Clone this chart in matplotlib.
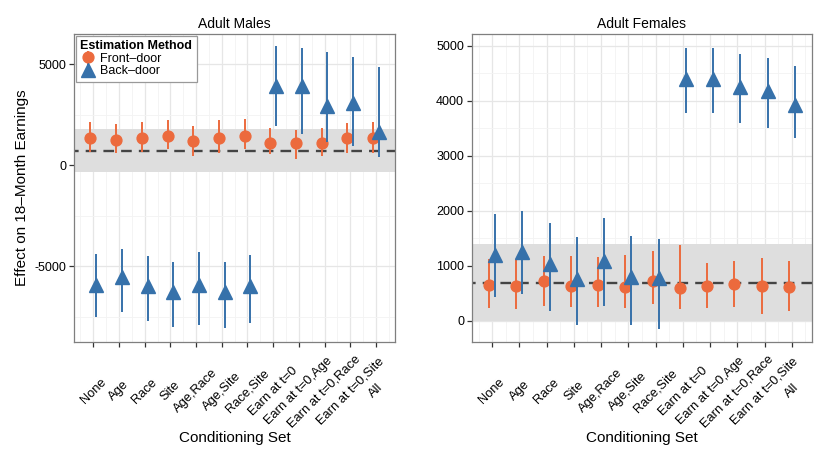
import matplotlib
matplotlib.use("Agg")
from matplotlib import pyplot as plt
from matplotlib.ticker import FixedLocator
import numpy as np

plt.rcParams['font.family'] = 'Liberation Sans'
plt.rcParams['axes.unicode_minus'] = False

categories = ["None", "Age", "Race", "Site", "Age,Race", "Age,Site", "Race,Site",
              "Earn at t=0", "Earn at t=0,Age", "Earn at t=0,Race", "Earn at t=0,Site", "All"]

# Adult males
males_front = [1350, 1250, 1350, 1420, 1190, 1350, 1420, 1090, 1090, 1090, 1350, 1350]
males_front_lo = [660, 590, 660, 790, 430, 590, 790, 530, 300, 460, 590, 590]
males_front_hi = [2110, 2050, 2110, 2240, 1950, 2210, 2280, 1820, 1750, 1850, 2080, 2110]
males_back = [-5930, -5520, -5970, -6300, -5940, -6300, -5970, 3930, 3930, 2940, 3090, 1630]
males_back_lo = [-7540, -7260, -7740, -8000, -7900, -8090, -7820, 1920, 1520, 1120, 960, 400]
males_back_hi = [-4410, -4160, -4520, -4820, -4290, -4820, -4460, 5880, 5790, 5580, 5330, 4880]
males_band = (-360, 1780)
males_benchmark = 720

# Adult females
females_front = [650, 630, 710, 620, 650, 610, 710, 590, 630, 670, 620, 610]
females_front_lo = [220, 210, 270, 240, 240, 220, 300, 210, 230, 240, 110, 170]
females_front_hi = [1120, 1120, 1180, 1180, 1160, 1190, 1270, 1380, 1040, 1090, 1130, 1090]
females_back = [1200, 1240, 1020, 750, 1090, 800, 770, 4390, 4400, 4240, 4180, 3910]
females_back_lo = [430, 490, 180, -80, 270, -80, -160, 3780, 3780, 3590, 3500, 3320]
females_back_hi = [1930, 2000, 1770, 1510, 1860, 1530, 1490, 4960, 4950, 4850, 4780, 4630]
females_band = (0, 1390)
females_benchmark = 690

orange = '#EC6A3D'
blue = '#3671AA'

fig = plt.figure(figsize=(8.21, 4.51), dpi=100)
W, H = 821, 451
ax1 = fig.add_axes([74 / W, 1 - 342 / H, (395 - 74) / W, (342 - 34) / H])
ax2 = fig.add_axes([471.7 / W, 1 - 342 / H, (812 - 471.7) / W, (342 - 34) / H])


def draw_panel(ax, title, front, flo, fhi, back, blo, bhi, band, bench, ylim, yticks, yminor):
    x = np.arange(1, len(categories) + 1)
    ax.axhspan(band[0], band[1], color='#DEDEDE', lw=0, zorder=1)
    ln, = ax.plot([0, 13], [bench, bench], color='#444444', lw=1.7, zorder=2)
    ln.set_dashes([4.5, 3])
    f = np.array(front)
    b = np.array(back)
    h1 = ax.errorbar(x - 0.11, f, yerr=[f - np.array(flo), np.array(fhi) - f], fmt='o',
                     color=orange, ms=7.8, elinewidth=1.4, capsize=0, zorder=3,
                     label='Front\u2013door')
    h2 = ax.errorbar(x + 0.11, b, yerr=[b - np.array(blo), np.array(bhi) - b], fmt='^',
                     color=blue, ms=9.5, elinewidth=1.4, capsize=0, zorder=4,
                     label='Back\u2013door')
    ax.set_xlim(0.25, 12.74)
    ax.set_ylim(*ylim)
    ax.set_xticks(x)
    ax.set_xticklabels(categories, rotation=45, ha='center', va='center', fontsize=9.3)
    ax.xaxis.set_minor_locator(FixedLocator(np.arange(0.5, 13, 1)))
    ax.set_yticks(yticks)
    ax.set_yticklabels([str(v) for v in yticks], fontsize=9)
    ax.yaxis.set_minor_locator(FixedLocator(yminor))
    ax.grid(True, which='major', color='#E6E6E6', lw=0.9, zorder=0)
    ax.grid(True, which='minor', color='#F3F3F3', lw=0.6, zorder=0)
    ax.set_axisbelow(True)
    ax.tick_params(which='major', length=3.5, width=0.9, color='#333333', labelcolor='black', pad=2)
    ax.tick_params(axis='x', which='major', pad=31.8)
    ax.tick_params(which='minor', length=0)
    for s in ax.spines.values():
        s.set_color('#7F7F7F')
        s.set_linewidth(0.9)
    ax.set_title(title, fontsize=10, pad=4)
    ax.set_xlabel('Conditioning Set', fontsize=11)
    ax.xaxis.set_label_coords(0.5, -0.29)
    return h1, h2


h1, h2 = draw_panel(ax1, 'Adult Males', males_front, males_front_lo, males_front_hi,
                    males_back, males_back_lo, males_back_hi, males_band, males_benchmark,
                    (-8760, 6490), [-5000, 0, 5000], [-7500, -2500, 2500])
draw_panel(ax2, 'Adult Females', females_front, females_front_lo, females_front_hi,
           females_back, females_back_lo, females_back_hi, females_band, females_benchmark,
           (-390, 5210), [0, 1000, 2000, 3000, 4000, 5000], [500, 1500, 2500, 3500, 4500])

ax1.set_ylabel('Effect on 18\u2013Month Earnings', fontsize=11, labelpad=4)

leg = ax1.legend(handles=[h1, h2], loc='upper left', bbox_to_anchor=(0, 1), borderaxespad=0.15,
                 title='Estimation Method', title_fontproperties={'weight': 'bold', 'size': 9},
                 fontsize=9, alignment='left', labelspacing=0.05, handlelength=1.3,
                 handletextpad=0.3, borderpad=0.35, fancybox=False, framealpha=1)
leg.get_frame().set_edgecolor('#999999')
leg.get_frame().set_linewidth(0.9)

fig.savefig('out.png', dpi=100)
